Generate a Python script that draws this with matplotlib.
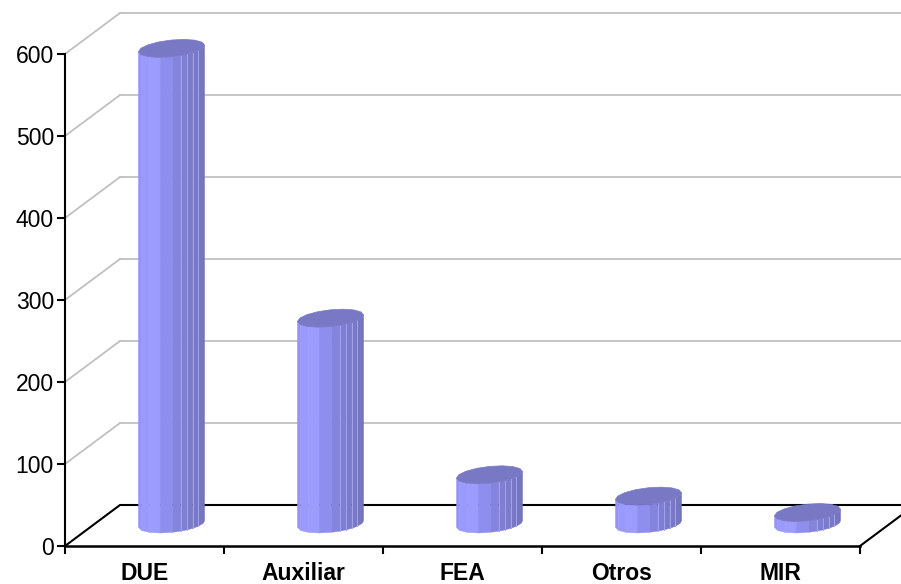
import numpy as np
import matplotlib
matplotlib.use('Agg')
import matplotlib.pyplot as plt
from matplotlib.patches import Polygon

plt.rcParams['font.family'] = ['Liberation Sans', 'DejaVu Sans']

categories = ['DUE', 'Auxiliar', 'FEA', 'Otros', 'MIR']
values = [580, 251, 60, 34, 14]
y_ticks = [0, 100, 200, 300, 400, 500, 600]

W, H = 901, 584
LEFT, RIGHT, BOTTOM, TOP = 65, 860, 546, 54

fig = plt.figure(figsize=(W / 100, H / 100), dpi=100)
ax = fig.add_axes([LEFT / W, 1 - BOTTOM / H, (RIGHT - LEFT) / W, (BOTTOM - TOP) / H])
ax.set_xlim(0, len(categories))
ax.set_ylim(0, 600)
ax.patch.set_alpha(0)

# size of one data unit in pixels, used for the fake depth
px_x = (RIGHT - LEFT) / len(categories)
px_y = (BOTTOM - TOP) / 600
depth_x = 55 / px_x
depth_y = 41 / px_y

# back wall and left wall gridlines
for v in y_ticks[1:]:
    ax.plot([0, depth_x], [v, v + depth_y], color='#c0c0c0', lw=1.3, clip_on=False, zorder=1)
    ax.plot([depth_x, 5 + depth_x], [v + depth_y, v + depth_y], color='#c0c0c0', lw=1.3,
            clip_on=False, zorder=1)

# floor outline
ax.plot([0, depth_x, 5 + depth_x], [0, depth_y, depth_y], color='black', lw=1.5,
        clip_on=False, zorder=2)
ax.plot([5, 5 + depth_x], [0, depth_y], color='black', lw=1.5, clip_on=False, zorder=2)

# cylinder cross section
ux, vx, vy = 30.8 / px_x, 12 / px_x, 9 / px_y
skew = np.degrees(np.arctan2(vx, ux))
base = 22 / px_y
facet_angles = [180, 205, 229, 250, 272, 286, 298, 310, 324, 342, 360]
facet_colors = ['#9494f6', '#9a9afc', '#9c9cff', '#8e8eee', '#8484de', '#7e7ed4', '#7b7bcd',
                '#7878c6', '#7575c0', '#7272ba']
seam_from = 5


def ring(cx, cy, angle):
    t = np.radians(angle + skew)
    return cx + ux * np.cos(t) + vx * np.sin(t), cy + vy * np.sin(t)


for i, value in enumerate(values):
    cx = i + 0.5 + 27 / px_x
    top = base + value
    for j in range(len(facet_colors)):
        x0, y0 = ring(cx, base, facet_angles[j])
        x1, y1 = ring(cx, base, facet_angles[j + 1])
        x2, y2 = ring(cx, top, facet_angles[j + 1])
        x3, y3 = ring(cx, top, facet_angles[j])
        ax.add_patch(Polygon([(x0, y0), (x1, y1), (x2, y2), (x3, y3)], closed=True,
                             facecolor=facet_colors[j], edgecolor=facet_colors[j],
                             lw=0.3, clip_on=False, zorder=3))
        if j >= seam_from and j < len(facet_colors) - 1:
            ax.plot([x0, x3], [y0, y3], color='#a4a4ea', lw=0.7, clip_on=False, zorder=4)
    lid = [ring(cx, top, a) for a in np.arange(0, 360, 22.5)]
    ax.add_patch(Polygon(lid, closed=True, facecolor='#7878c4', edgecolor='#7878c4',
                         lw=0.5, clip_on=False, zorder=5))

# axes
for side in ('top', 'right'):
    ax.spines[side].set_visible(False)
ax.spines['left'].set_linewidth(1.5)
ax.spines['bottom'].set_linewidth(1.8)
ax.spines['bottom'].set_zorder(6)

ax.set_yticks(y_ticks)
ax.tick_params(axis='y', length=6, width=1.5, labelsize=16.5, pad=2)
ax.set_xticks(range(len(categories) + 1))
ax.set_xticklabels([])
ax.tick_params(axis='x', length=6, width=1.5)
for i, name in enumerate(categories):
    ax.annotate(name, (i + 0.5, 0), xytext=(0, -19.5), textcoords='offset points',
                ha='center', va='center', fontsize=16.5, fontweight='bold',
                annotation_clip=False)

fig.savefig('out.png', dpi=100)
